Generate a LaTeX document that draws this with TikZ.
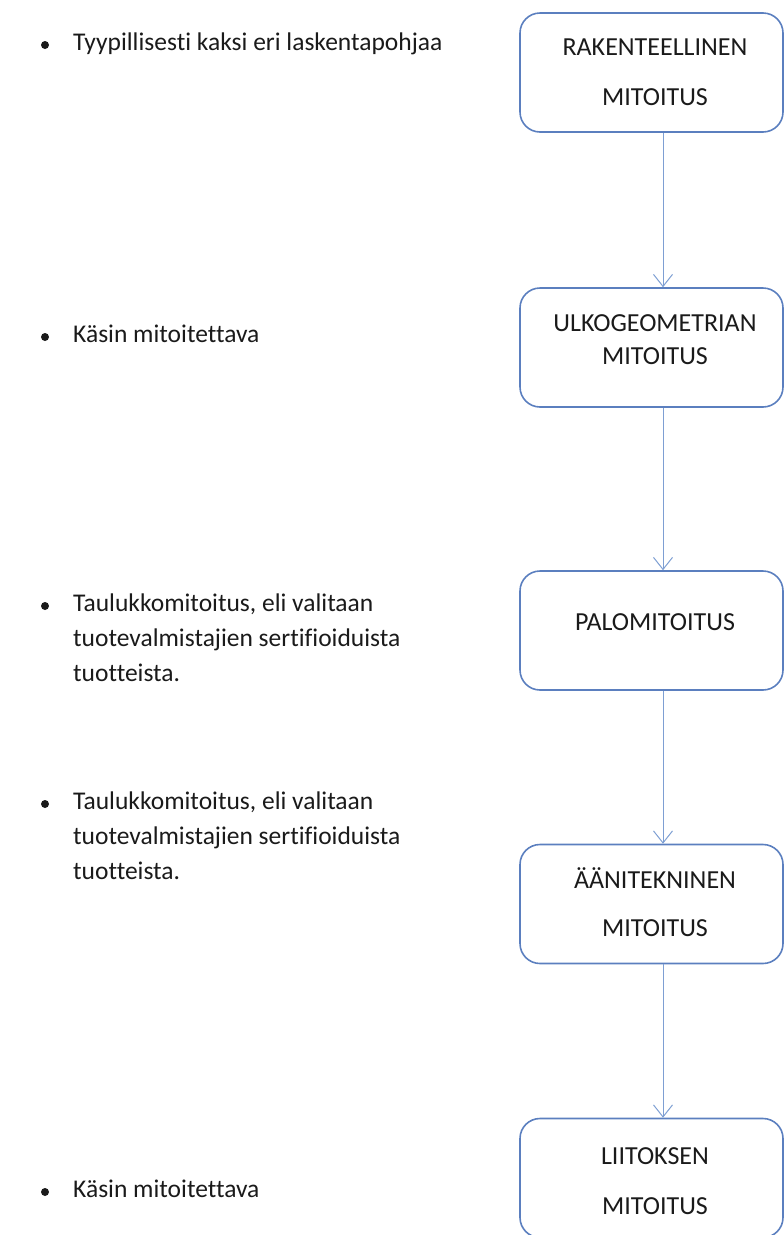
\documentclass[tikz,border=0pt]{standalone}
\usepackage{fontspec}
\setmainfont[RawFeature={-liga;-clig;-dlig}]{Carlito}
\usetikzlibrary{arrows.meta}
\definecolor{boxblue}{HTML}{5B7FBF}
\definecolor{arrowblue}{HTML}{7E9FD3}
\definecolor{txt}{HTML}{1A1A1A}
\tikzset{
  box/.style={draw=boxblue, line width=1.6pt, rounded corners=20pt, minimum width=263pt, minimum height=119pt, inner sep=0pt},
  boxtext/.style={text=txt, font=\fontsize{26}{30}\selectfont, align=center, inner sep=0pt},
  lefttext/.style={text=txt, font=\fontsize{25.5}{35}\selectfont, align=left, anchor=north west, inner sep=0pt},
  bullet/.style={circle, fill=txt, inner sep=0pt, minimum size=8pt},
  flow/.style={draw=arrowblue, line width=1pt, -{Straight Barb[length=12pt,width=19pt,line width=1pt]}}
}
\begin{document}
\begin{tikzpicture}[x=1pt,y=-1pt]
\useasboundingbox (0,0) rectangle (784,1235);
% boxes
\node[box] (b1) at (651.5,72.5) {};
\node[box] (b2) at (651.5,347.5) {};
\node[box] (b3) at (651.5,630.5) {};
\node[box] (b4) at (651.5,904) {};
\node[box] (b5) at (651.5,1178) {};
% box texts
\node[boxtext] (t1) at (655,72) {RAKENTEELLINEN\\[20pt]MITOITUS};
\node[boxtext] (t2) at (655,340) {ULKOGEOMETRIAN\\[3pt]MITOITUS};
\node[boxtext] (t3) at (655,622) {PALOMITOITUS};
\node[boxtext] (t4) at (655,902) {ÄÄNITEKNINEN\\[18pt]MITOITUS};
\node[boxtext] (t5) at (655,1181) {LIITOKSEN\\[20pt]MITOITUS};
% connectors
\draw[flow] ([xshift=11.5pt]b1.south) -- ([xshift=11.5pt]b2.north);
\draw[flow] ([xshift=11.5pt]b2.south) -- ([xshift=11.5pt]b3.north);
\draw[flow] ([xshift=11.5pt]b3.south) -- ([xshift=11.5pt]b4.north);
\draw[flow] ([xshift=11.5pt]b4.south) -- ([xshift=11.5pt]b5.north);
% left column
\node[bullet] (d1) at (45,45) {};
\node[lefttext] (l1) at (73,33) {Tyypillisesti kaksi eri laskentapohjaa};
\node[bullet] (d2) at (45,337) {};
\node[lefttext] (l2) at (73,325) {Käsin mitoitettava};
\node[bullet] (d3) at (45,606) {};
\node[lefttext] (l3) at (73,594) {Taulukkomitoitus, eli valitaan\\tuotevalmistajien sertifioiduista\\tuotteista.};
\node[bullet] (d4) at (45,804) {};
\node[lefttext] (l4) at (73,792) {Taulukkomitoitus, eli valitaan\\tuotevalmistajien sertifioiduista\\tuotteista.};
\node[bullet] (d5) at (45,1192) {};
\node[lefttext] (l5) at (73,1180) {Käsin mitoitettava};
\end{tikzpicture}
\end{document}
